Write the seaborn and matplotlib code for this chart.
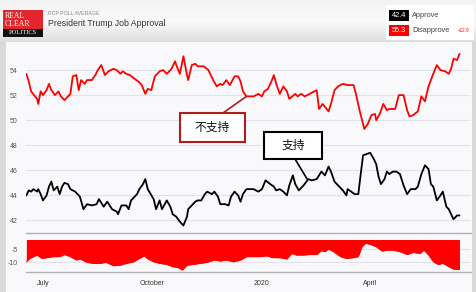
import matplotlib
matplotlib.use('Agg')
import matplotlib.pyplot as plt
import seaborn as sns
import pandas as pd
import numpy as np
from matplotlib.patches import Rectangle
from matplotlib.colors import LinearSegmentedColormap

# ---------------- data ----------------
disapprove_dates = [
    '2019-06-17', '2019-06-19', '2019-06-21', '2019-06-26', '2019-06-27', '2019-06-29', '2019-07-01',
    '2019-07-04', '2019-07-06', '2019-07-08', '2019-07-11', '2019-07-14', '2019-07-16', '2019-07-19',
    '2019-07-24', '2019-07-26', '2019-07-29', '2019-07-31', '2019-08-02', '2019-08-05', '2019-08-07',
    '2019-08-11', '2019-08-14', '2019-08-16', '2019-08-19', '2019-08-22', '2019-08-25', '2019-08-29',
    '2019-09-01', '2019-09-04', '2019-09-06', '2019-09-09', '2019-09-12', '2019-09-16', '2019-09-19',
    '2019-09-22', '2019-09-25', '2019-09-27', '2019-09-30', '2019-10-03', '2019-10-07', '2019-10-10',
    '2019-10-13', '2019-10-17', '2019-10-20', '2019-10-21', '2019-10-24', '2019-10-27', '2019-10-30',
    '2019-10-31', '2019-11-03', '2019-11-06', '2019-11-08', '2019-11-13', '2019-11-17', '2019-11-21',
    '2019-11-24', '2019-11-27', '2019-11-29', '2019-12-02', '2019-12-05', '2019-12-09', '2019-12-12',
    '2019-12-14', '2019-12-16', '2019-12-19', '2019-12-25', '2019-12-29', '2020-01-01', '2020-01-03',
    '2020-01-06', '2020-01-09', '2020-01-11', '2020-01-13', '2020-01-16', '2020-01-19', '2020-01-22',
    '2020-01-24', '2020-01-29', '2020-01-31', '2020-02-03', '2020-02-06', '2020-02-10', '2020-02-14',
    '2020-02-16', '2020-02-18', '2020-02-21', '2020-02-26', '2020-02-28', '2020-03-02', '2020-03-05',
    '2020-03-09', '2020-03-13', '2020-03-18', '2020-03-20', '2020-03-23', '2020-03-26', '2020-03-27',
    '2020-03-30', '2020-04-02', '2020-04-05', '2020-04-06', '2020-04-09', '2020-04-12', '2020-04-15',
    '2020-04-17', '2020-04-22', '2020-04-25', '2020-04-29', '2020-05-02', '2020-05-04', '2020-05-07',
    '2020-05-11', '2020-05-14', '2020-05-17', '2020-05-20', '2020-05-24', '2020-05-27', '2020-05-30',
    '2020-06-03', '2020-06-06', '2020-06-08', '2020-06-10', '2020-06-13', '2020-06-15']
disapprove_values = [
    53.7, 53.1, 52.3, 51.7, 51.3, 52.3, 52.0,
    52.4, 52.9, 52.4, 52.0, 52.3, 51.9, 51.6,
    52.1, 53.5, 53.6, 52.4, 53.2, 52.9, 53.2,
    53.2, 53.6, 54.0, 54.4, 53.6, 53.9, 54.1,
    54.0, 53.7, 53.9, 53.7, 53.6, 53.3, 53.1,
    52.8, 52.1, 52.5, 52.4, 53.5, 53.9, 54.0,
    53.7, 54.1, 54.7, 54.4, 53.7, 55.1, 53.6,
    53.2, 54.4, 54.5, 54.3, 54.3, 54.0, 53.2,
    52.7, 52.9, 52.8, 53.2, 52.8, 53.5, 53.5,
    53.1, 52.3, 51.9, 51.9, 52.1, 51.9, 52.3,
    52.5, 53.1, 53.6, 52.9, 52.1, 52.7, 52.3,
    51.7, 52.1, 51.9, 52.1, 51.9, 52.1, 52.3,
    52.4, 50.9, 51.3, 50.7, 51.3, 52.4, 52.7,
    52.9, 52.8, 52.8, 52.1, 50.8, 49.7, 49.3,
    49.7, 50.4, 50.5, 50.0, 50.5, 51.3, 50.8,
    50.9, 50.9, 52.0, 52.0, 50.8, 50.3, 50.4,
    50.7, 51.9, 51.5, 52.7, 53.7, 54.4, 54.0,
    53.9, 53.7, 54.1, 54.9, 54.8, 55.3]

approve_dates = [
    '2019-06-17', '2019-06-19', '2019-06-21', '2019-06-23', '2019-06-26', '2019-06-27', '2019-06-29',
    '2019-07-01', '2019-07-04', '2019-07-06', '2019-07-08', '2019-07-10', '2019-07-13', '2019-07-15',
    '2019-07-17', '2019-07-19', '2019-07-22', '2019-07-24', '2019-07-28', '2019-08-01', '2019-08-04',
    '2019-08-07', '2019-08-11', '2019-08-15', '2019-08-17', '2019-08-21', '2019-08-24', '2019-08-28',
    '2019-09-01', '2019-09-02', '2019-09-05', '2019-09-09', '2019-09-11', '2019-09-13', '2019-09-18',
    '2019-09-20', '2019-09-23', '2019-09-25', '2019-09-27', '2019-10-02', '2019-10-04', '2019-10-07',
    '2019-10-09', '2019-10-13', '2019-10-16', '2019-10-18', '2019-10-21', '2019-10-24', '2019-10-27',
    '2019-10-30', '2019-10-31', '2019-11-03', '2019-11-06', '2019-11-08', '2019-11-11', '2019-11-14',
    '2019-11-16', '2019-11-20', '2019-11-22', '2019-11-25', '2019-11-27', '2019-12-01', '2019-12-04',
    '2019-12-06', '2019-12-09', '2019-12-12', '2019-12-14', '2019-12-16', '2019-12-19', '2019-12-22',
    '2019-12-25', '2019-12-29', '2020-01-01', '2020-01-04', '2020-01-08', '2020-01-11', '2020-01-13',
    '2020-01-16', '2020-01-19', '2020-01-22', '2020-01-24', '2020-01-27', '2020-01-29', '2020-02-01',
    '2020-02-05', '2020-02-09', '2020-02-12', '2020-02-16', '2020-02-20', '2020-02-23', '2020-02-26',
    '2020-02-28', '2020-03-02', '2020-03-06', '2020-03-09', '2020-03-12', '2020-03-13', '2020-03-16',
    '2020-03-19', '2020-03-22', '2020-03-24', '2020-03-26', '2020-03-29', '2020-04-01', '2020-04-04',
    '2020-04-06', '2020-04-08', '2020-04-10', '2020-04-13', '2020-04-15', '2020-04-17', '2020-04-20',
    '2020-04-23', '2020-04-26', '2020-04-29', '2020-05-02', '2020-05-05', '2020-05-09', '2020-05-11',
    '2020-05-14', '2020-05-17', '2020-05-20', '2020-05-22', '2020-05-24', '2020-05-27', '2020-05-30',
    '2020-06-01', '2020-06-04', '2020-06-06', '2020-06-10', '2020-06-13', '2020-06-15']
approve_values = [
    44.0, 44.4, 44.3, 44.5, 44.3, 44.5, 44.1,
    43.6, 44.0, 44.7, 45.1, 44.4, 44.7, 44.1,
    44.7, 45.0, 44.9, 44.5, 44.3, 43.9, 42.9,
    43.3, 43.2, 43.3, 43.7, 43.1, 43.5, 42.9,
    42.7, 42.5, 43.2, 43.2, 42.9, 43.6, 44.1,
    44.5, 44.9, 45.3, 44.5, 43.7, 42.9, 43.6,
    42.9, 43.6, 43.1, 42.5, 42.3, 41.9, 41.6,
    42.3, 42.9, 43.2, 43.5, 43.6, 43.6, 44.1,
    44.3, 44.1, 44.3, 43.9, 43.3, 43.3, 43.2,
    43.9, 44.3, 44.0, 43.5, 44.1, 44.5, 44.5,
    44.5, 44.3, 44.5, 45.2, 44.9, 44.7, 44.4,
    44.5, 44.3, 44.0, 44.8, 45.6, 44.9, 44.4,
    44.8, 45.3, 45.2, 45.3, 45.9, 45.6, 46.3,
    45.9, 45.1, 44.7, 44.4, 44.0, 44.5, 44.3,
    44.1, 44.1, 45.7, 47.2, 47.3, 47.4, 46.9,
    46.5, 45.5, 44.9, 45.3, 45.9, 45.7, 45.9,
    45.9, 45.7, 44.8, 44.1, 44.5, 44.5, 44.7,
    45.7, 46.4, 46.1, 44.9, 44.7, 43.6, 44.0,
    44.3, 43.1, 42.9, 42.1, 42.4, 42.4]

spread_dates = [
    '2019-06-17', '2019-06-20', '2019-06-26', '2019-06-30', '2019-07-04', '2019-07-10', '2019-07-15',
    '2019-07-19', '2019-07-24', '2019-07-29', '2019-08-01', '2019-08-07', '2019-08-12', '2019-08-18',
    '2019-08-23', '2019-08-29', '2019-09-04', '2019-09-09', '2019-09-15', '2019-09-20', '2019-09-24',
    '2019-09-27', '2019-10-02', '2019-10-07', '2019-10-13', '2019-10-18', '2019-10-23', '2019-10-26',
    '2019-10-30', '2019-11-04', '2019-11-10', '2019-11-16', '2019-11-22', '2019-11-27', '2019-12-02',
    '2019-12-08', '2019-12-14', '2019-12-19', '2019-12-25', '2019-12-30', '2020-01-05', '2020-01-10',
    '2020-01-16', '2020-01-22', '2020-01-26', '2020-01-30', '2020-02-05', '2020-02-10', '2020-02-16',
    '2020-02-20', '2020-02-23', '2020-02-26', '2020-03-01', '2020-03-07', '2020-03-12', '2020-03-18',
    '2020-03-22', '2020-03-25', '2020-03-28', '2020-04-01', '2020-04-06', '2020-04-11', '2020-04-15',
    '2020-04-20', '2020-04-26', '2020-05-02', '2020-05-07', '2020-05-13', '2020-05-16', '2020-05-20',
    '2020-05-24', '2020-05-28', '2020-06-01', '2020-06-06', '2020-06-10', '2020-06-15']
spread_values = [
    -9.9, -8.6, -7.3, -8.6, -8.3, -7.9, -7.9,
    -7.1, -7.9, -9.2, -8.8, -10.1, -10.5, -10.5,
    -10.1, -11.4, -11.2, -10.5, -9.9, -8.6, -7.6,
    -8.8, -9.9, -10.5, -10.9, -11.8, -12.2, -13.1,
    -11.2, -10.9, -10.5, -10.1, -9.2, -9.6, -9.2,
    -9.9, -9.2, -7.9, -7.9, -7.9, -7.6, -8.3,
    -8.3, -8.8, -6.7, -7.3, -7.3, -7.1, -7.1,
    -5.6, -6.0, -5.0, -6.0, -7.9, -8.6, -8.3,
    -7.9, -4.1, -2.8, -3.2, -4.1, -5.8, -5.4,
    -5.4, -6.0, -7.1, -6.3, -6.7, -5.4, -7.3,
    -9.9, -10.9, -10.5, -11.8, -12.7, -12.9]

main_yticks = [42, 44, 46, 48, 50, 52, 54]
spread_yticks = [-5, -10]
xtick_dates = ['2019-07-01', '2019-10-01', '2020-01-01', '2020-04-01']
xtick_labels = ['July', 'October', '2020', 'April']

approve_latest = '42.4'
disapprove_latest = '55.3'
spread_latest = '+12.9'
header_small = 'RCP POLL AVERAGE'
header_title = 'President Trump Job Approval'
label_disapprove = '不支持'
label_approve = '支持'
label_disapprove_point = ('2019-12-19', 51.9)
label_approve_point = ('2020-02-08', 45.3)

# ---------------- figure ----------------
sns.set_theme(style='white')
plt.rcParams['font.family'] = ['Liberation Sans', 'DejaVu Sans']
CJK = ['Noto Sans CJK SC', 'DejaVu Sans']

W, H = 477, 292
RED = '#ff0000'
DARKRED = '#b01c1c'


def fx(x):
    return x / W


def fy(y):
    return 1 - y / H


def fig_rect(x0, y0, x1, y1, **kw):
    """Rectangle given in reference pixel coordinates (top-left origin)."""
    r = Rectangle((fx(x0), fy(y1)), (x1 - x0) / W, (y1 - y0) / H,
                  transform=fig.transFigure, **kw)
    fig.add_artist(r)
    return r


fig = plt.figure(figsize=(W / 100, H / 100), dpi=100)
fig.patch.set_facecolor('#d9d9d9')

# header gradient band
hdr = fig.add_axes([0, fy(42), 1, 42 / H], zorder=-2)
cmap = LinearSegmentedColormap.from_list('hdr', ['#f3f3f3', '#fafafa', '#dedede'])
hdr.imshow(np.linspace(0, 1, 60).reshape(-1, 1), aspect='auto', cmap=cmap,
           extent=[0, 1, 0, 1], origin='upper')
hdr.set_axis_off()

# chart panel
fig_rect(6, 42, 472, 292, facecolor='#f9f9fc', edgecolor='none', zorder=-1)

# logo
fig_rect(3, 10, 43, 29, facecolor='#e3262e', edgecolor='none')
fig_rect(3, 29, 43, 37, facecolor='#111111', edgecolor='none')
logo_font = ['Liberation Serif', 'DejaVu Serif']
fig.text(fx(5), fy(15.5), 'REAL', color='white', fontsize=5.6, family=logo_font, va='center', ha='left')
fig.text(fx(5), fy(23.5), 'CLEAR', color='white', fontsize=5.6, family=logo_font, va='center', ha='left')
fig.text(fx(23), fy(33), 'POLITICS', color='white', fontsize=4.7, family=logo_font, va='center', ha='center')

fig.text(fx(48), fy(13.5), header_small, color='#8a8a8a', fontsize=3.8, va='center', ha='left')
fig.text(fx(48), fy(24), header_title, color='#333333', fontsize=6.3, va='center', ha='left')

# legend box at top right
fig_rect(386, 5, 474, 40, facecolor='white', edgecolor='none')
fig_rect(389, 10, 409, 21, facecolor='#000000', edgecolor='none')
fig_rect(389, 25, 409, 36, facecolor=RED, edgecolor='none')
fig.text(fx(399), fy(15.5), approve_latest, color='white', fontsize=5.3, ha='center', va='center')
fig.text(fx(399), fy(30.5), disapprove_latest, color='white', fontsize=5.3, ha='center', va='center')
fig.text(fx(412), fy(15.5), 'Approve', color='#444444', fontsize=5.3, ha='left', va='center')
fig.text(fx(412), fy(30.5), 'Disapprove', color='#444444', fontsize=5.3, ha='left', va='center')
fig.text(fx(458), fy(31), spread_latest, color=RED, fontsize=3.3, ha='left', va='center')

# ---------------- main axes ----------------
ax = fig.add_axes([fx(26), fy(233), fx(471) - fx(26), (233 - 45) / H])
ax.set_facecolor('#f9f9fc')

df_app = pd.DataFrame({'date': pd.to_datetime(approve_dates), 'value': approve_values})
df_dis = pd.DataFrame({'date': pd.to_datetime(disapprove_dates), 'value': disapprove_values})
df_spr = pd.DataFrame({'date': pd.to_datetime(spread_dates), 'value': spread_values})

sns.lineplot(data=df_dis, x='date', y='value', ax=ax, color=RED, linewidth=1.3,
             estimator=None, zorder=3)
sns.lineplot(data=df_app, x='date', y='value', ax=ax, color='#000000', linewidth=1.3,
             estimator=None, zorder=3)

x0 = pd.Timestamp('2019-07-01')
xlim = (x0 - pd.Timedelta(days=14.3), x0 + pd.Timedelta(days=359.7))
ax.set_xlim(xlim)
ax.set_ylim(41, 56)
ax.set_yticks(main_yticks)
ax.set_yticklabels([str(t) for t in main_yticks])
ax.set_xticks([])
ax.set_xlabel('')
ax.set_ylabel('')
ax.grid(axis='y', color='#e2e2ea', linewidth=0.8)
ax.tick_params(axis='y', length=0, pad=6, labelsize=5, labelcolor='#555555')
for s in ['top', 'right', 'left']:
    ax.spines[s].set_visible(False)
ax.spines['bottom'].set_color('#b0b0b0')
ax.spines['bottom'].set_linewidth(1.0)

# annotation callouts: connector lines (data -> box edge), boxes and labels
ax.annotate('', xy=(pd.Timestamp(label_disapprove_point[0]), label_disapprove_point[1]),
            xytext=(fx(223), fy(113)), textcoords='figure fraction',
            arrowprops=dict(arrowstyle='-', color=DARKRED, lw=1.2, shrinkA=0, shrinkB=0))
ax.annotate('', xy=(pd.Timestamp(label_approve_point[0]), label_approve_point[1]),
            xytext=(fx(295), fy(159)), textcoords='figure fraction',
            arrowprops=dict(arrowstyle='-', color='#000000', lw=1.2, shrinkA=0, shrinkB=0))
fig_rect(180, 113, 245, 142, facecolor='white', edgecolor=DARKRED, linewidth=1.5, zorder=4)
fig_rect(264, 132, 322, 159, facecolor='white', edgecolor='#000000', linewidth=1.5, zorder=4)
fig.text(fx(212.5), fy(127.5), label_disapprove, ha='center', va='center', fontsize=8.5,
         family=CJK, color='#111111', zorder=5)
fig.text(fx(293), fy(145.5), label_approve, ha='center', va='center', fontsize=8.5,
         family=CJK, color='#111111', zorder=5)

# ---------------- spread axes ----------------
ax2 = fig.add_axes([fx(26), fy(272), fx(471) - fx(26), 32 / H])
ax2.set_facecolor('#f9f9fc')
ax2.fill_between(df_spr['date'], df_spr['value'], 0, color=RED, linewidth=0, zorder=2)
sns.lineplot(data=df_spr, x='date', y='value', ax=ax2, color=RED, linewidth=0.6,
             estimator=None, zorder=3)
ax2.set_xlim(xlim)
ax2.set_ylim(-13.8, -1.5)
ax2.set_yticks(spread_yticks)
ax2.set_yticklabels([str(t) for t in spread_yticks])
ax2.set_xticks(pd.to_datetime(xtick_dates))
ax2.set_xticklabels(xtick_labels)
ax2.set_xlabel('')
ax2.set_ylabel('')
ax2.grid(axis='y', color='#e2e2ea', linewidth=0.8)
ax2.tick_params(axis='y', length=0, pad=6, labelsize=5, labelcolor='#555555')
ax2.tick_params(axis='x', length=0, pad=6, labelsize=5, labelcolor='#333333')
for s in ['top', 'right', 'left']:
    ax2.spines[s].set_visible(False)
ax2.spines['bottom'].set_color('#b0b0b0')
ax2.spines['bottom'].set_linewidth(1.0)

fig.savefig('out.png', dpi=100, facecolor=fig.get_facecolor())
